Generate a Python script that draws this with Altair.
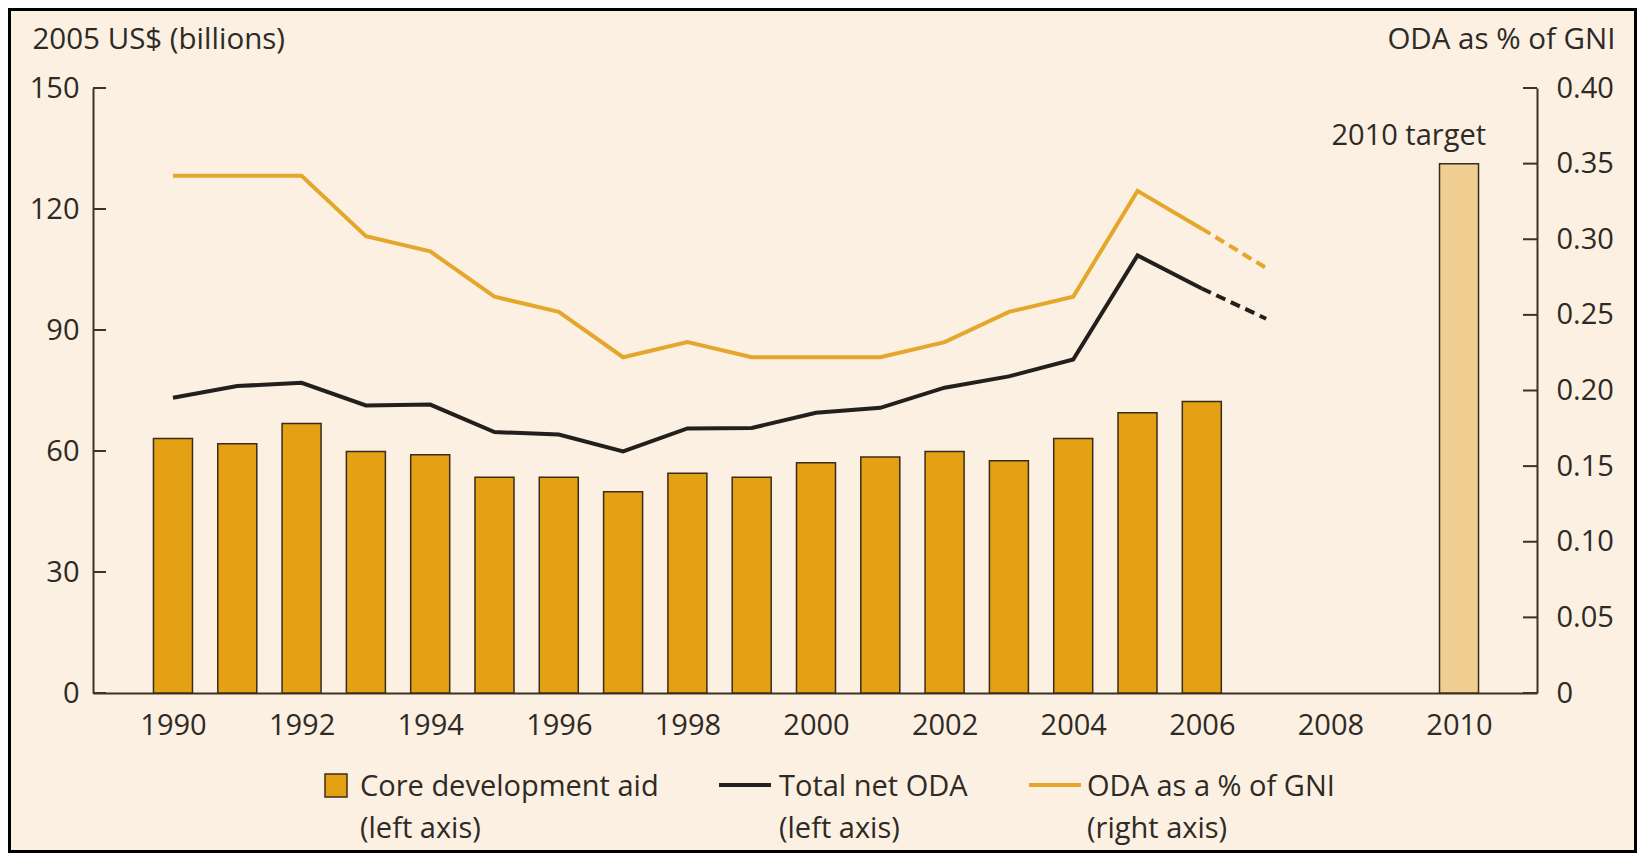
import altair as alt
import pandas as pd

# ---------------- data ----------------
years = list(range(1990, 2008))
core_years = list(range(1990, 2007))
core_aid = [63.1, 61.8, 66.8, 59.9, 59.1, 53.5, 53.5, 49.9, 54.5, 53.5,
            57.1, 58.5, 59.9, 57.6, 63.1, 69.5, 72.3]
total_oda = [73.2, 76.1, 76.9, 71.3, 71.5, 64.7, 64.1, 59.9, 65.6, 65.7,
             69.5, 70.7, 75.7, 78.5, 82.7, 108.5, 100.3, 92.8]
oda_gni = [0.342, 0.342, 0.342, 0.302, 0.292, 0.262, 0.252, 0.222, 0.232, 0.222,
           0.222, 0.222, 0.232, 0.252, 0.262, 0.332, 0.307, 0.281]
last_actual_year = 2006
target_year = [2010]
target_gni = [0.35]
target_label = ["2010 target"]
left_ticks = [0, 30, 60, 90, 120, 150]
right_ticks = [0, 0.05, 0.10, 0.15, 0.20, 0.25, 0.30, 0.35, 0.40]
x_ticks = list(range(1990, 2011, 2))
left_title = "2005 US$ (billions)"
right_title = "ODA as % of GNI"
legend_labels = ["Core development aid", "Total net ODA", "ODA as a % of GNI"]
legend_notes = ["(left axis)", "(left axis)", "(right axis)"]

# ---------------- styles ----------------
W, H = 1444, 605
PAD = {"left": 85, "top": 80, "right": 100, "bottom": 160}
BG = "#FBF0E1"
GOLD = "#E5A114"
TAN = "#F1CF92"
GOLDLINE = "#E4A72C"
BLACK = "#231F1C"
DARK = "#3A2C1C"
AX = "#3D3226"
TXT = "#2E2A26"
FONT = "Open Sans"
FS = 29
TFS = 29.5

df_bar = pd.DataFrame({"year": core_years, "core": core_aid})
df_line = pd.DataFrame({"year": years, "total": total_oda, "gni": oda_gni})
df_solid = df_line[df_line["year"] <= last_actual_year]
df_dash = df_line[df_line["year"] >= last_actual_year]
df_target = pd.DataFrame({"year": target_year, "gni": target_gni, "label": target_label})
df_lt = pd.DataFrame({"v": left_ticks})
df_rt = pd.DataFrame({"v": right_ticks})
one = alt.Data(values=[{}])

x_scale = alt.Scale(domain=[1988.834, 2011.135], nice=False, zero=False)
x_axis = alt.Axis(values=x_ticks, format="d", ticks=False, grid=False,
                  domainColor=AX, domainWidth=2, labelFontSize=FS, labelColor=TXT,
                  labelFont=FONT, labelPadding=18, labelFlush=False, title=None)
X = alt.X("year:Q", scale=x_scale, axis=x_axis)

yl_scale = alt.Scale(domain=[0, 150], nice=False, zero=True)
yl_axis = alt.Axis(values=left_ticks, ticks=False, grid=False, orient="left",
                   domainColor=AX, domainWidth=2, labelFontSize=FS, labelColor=TXT,
                   labelFont=FONT, labelPadding=14, labelFlush=False,
                   title=left_title, titleAngle=0, titleAlign="left",
                   titleBaseline="middle", titleX=-61, titleY=-49,
                   titleFontSize=TFS, titleFontWeight="normal", titleFont=FONT,
                   titleColor=TXT)

yr_scale = alt.Scale(domain=[0, 0.40], nice=False, zero=True)
yr_axis = alt.Axis(values=right_ticks, ticks=False, grid=False, orient="right",
                   labelExpr="datum.value == 0 ? '0' : format(datum.value, '.2f')",
                   domainColor=AX, domainWidth=2, labelFontSize=FS, labelColor=TXT,
                   labelFont=FONT, labelPadding=19, labelFlush=False,
                   title=right_title, titleAngle=0, titleAlign="right",
                   titleBaseline="middle", titleX=78, titleY=-49,
                   titleFontSize=TFS, titleFontWeight="normal", titleFont=FONT,
                   titleColor=TXT)

# ---------------- left-axis layers ----------------
bars = alt.Chart(df_bar).mark_bar(width=39, color=GOLD, stroke=DARK, strokeWidth=1.5).encode(
    x=X, y=alt.Y("core:Q", scale=yl_scale, axis=yl_axis))
black_solid = alt.Chart(df_solid).mark_line(color=BLACK, strokeWidth=4).encode(
    x=X, y=alt.Y("total:Q", scale=yl_scale, axis=yl_axis))
black_dash = alt.Chart(df_dash).mark_line(color=BLACK, strokeWidth=4, strokeDash=[10, 6]).encode(
    x=X, y=alt.Y("total:Q", scale=yl_scale, axis=yl_axis))
lticks = alt.Chart(df_lt).mark_rule(color=AX, strokeWidth=2).encode(
    y=alt.Y("v:Q", scale=yl_scale, axis=yl_axis), x=alt.value(0), x2=alt.value(13))

# decorations: frame + legend
frame = alt.Chart(one).mark_rect(fillOpacity=0, stroke="#000000", strokeWidth=3).encode(
    x=alt.value(-PAD["left"] + 1.5), x2=alt.value(W + PAD["right"] - 1.5),
    y=alt.value(-PAD["top"] + 1.5), y2=alt.value(H + PAD["bottom"] - 1.5))
leg_sq = alt.Chart(one).mark_rect(color=GOLD, stroke=DARK, strokeWidth=1.5).encode(
    x=alt.value(232), x2=alt.value(254), y=alt.value(686), y2=alt.value(709))
leg_black = alt.Chart(one).mark_rule(color=BLACK, strokeWidth=4).encode(
    x=alt.value(626), x2=alt.value(678), y=alt.value(697))
leg_gold = alt.Chart(one).mark_rule(color=GOLDLINE, strokeWidth=4).encode(
    x=alt.value(936), x2=alt.value(988), y=alt.value(697))
leg_texts = []
for lx, lab, note in zip([267, 686, 994], legend_labels, legend_notes):
    leg_texts.append(
        alt.Chart(one).mark_text(align="left", baseline="alphabetic", lineBreak="\n",
                                 lineHeight=42, font=FONT, fontSize=FS, color=TXT).encode(
            x=alt.value(lx), y=alt.value(708), text=alt.value(lab + "\n" + note)))

left_group = alt.layer(bars, black_solid, black_dash, lticks, frame, leg_sq,
                       leg_black, leg_gold, *leg_texts)

# ---------------- right-axis layers ----------------
gold_solid = alt.Chart(df_solid).mark_line(color=GOLDLINE, strokeWidth=4).encode(
    x=X, y=alt.Y("gni:Q", scale=yr_scale, axis=yr_axis))
gold_dash = alt.Chart(df_dash).mark_line(color=GOLDLINE, strokeWidth=4, strokeDash=[10, 6]).encode(
    x=X, y=alt.Y("gni:Q", scale=yr_scale, axis=yr_axis))
target = alt.Chart(df_target).mark_bar(width=39, color=TAN, stroke=DARK, strokeWidth=1.5).encode(
    x=X, y=alt.Y("gni:Q", scale=yr_scale, axis=yr_axis))
target_txt = alt.Chart(df_target).mark_text(align="right", baseline="alphabetic", dx=27, dy=-18.6,
                                            font=FONT, fontSize=FS, color=TXT).encode(
    x=X, y=alt.Y("gni:Q", scale=yr_scale, axis=yr_axis), text="label:N")
rticks = alt.Chart(df_rt).mark_rule(color=AX, strokeWidth=2).encode(
    y=alt.Y("v:Q", scale=yr_scale, axis=yr_axis), x=alt.value(W - 14), x2=alt.value(W))

right_group = alt.layer(gold_solid, gold_dash, target, target_txt, rticks)

chart = alt.layer(left_group, right_group).resolve_scale(y="independent").properties(
    width=W, height=H, padding=PAD,
    autosize=alt.AutoSizeParams(type="none"), background=BG
).configure_view(stroke=None)

chart.save("out.html", embed_options={"renderer": "svg", "actions": False})
